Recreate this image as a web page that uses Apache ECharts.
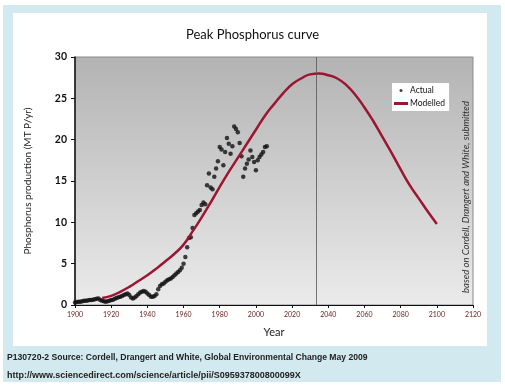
<!DOCTYPE html>
<html>
<head>
<meta charset="utf-8">
<script src="https://cdn.jsdelivr.net/npm/echarts@6/dist/echarts.min.js"></script>
<style>
html,body{margin:0;padding:0;background:#fff;}
#outer{position:absolute;left:3px;top:5px;width:498px;height:377px;background:#d2e9f0;}
#inner{position:absolute;left:13px;top:13px;width:474px;height:333px;background:#fff;}
#chart{position:absolute;left:0;top:0;width:505px;height:389px;}
</style>
</head>
<body>
<div id="outer"></div>
<div id="inner"></div>
<div id="chart"></div>
<script>
// ---- data ----
const actualYears = [];
for (let y = 1900; y <= 2007; y++) actualYears.push(y);
const actualValues = [
  0.3,0.35,0.4,0.4,0.45,0.5,0.5,0.55,0.6,0.6,0.65,0.7,0.75,0.8,
  0.6,0.5,0.45,0.4,0.45,0.5,
  0.6,0.65,0.75,0.85,0.95,1.0,1.1,1.2,1.3,1.4,
  1.2,0.9,0.8,0.9,1.1,
  1.3,1.5,1.6,1.7,1.6,
  1.4,1.2,1.0,1.0,1.1,1.3,
  1.9,2.3,2.5,2.6,
  2.8,3.0,3.1,3.2,3.4,3.6,3.8,4.0,4.2,4.5,
  5.0,5.8,7.0,8.1,8.2,9.3,10.9,11.1,11.3,11.5,
  12.1,12.4,12.2,14.5,15.9,14.2,14.0,15.5,16.5,17.4,
  19.1,18.8,16.9,18.5,20.2,19.5,18.3,19.2,21.6,21.3,
  20.9,19.6,18.0,15.5,16.5,17.1,17.6,18.7,17.9,17.3,
  16.3,17.5,17.9,18.2,18.5,19.1,19.2
];
const modelYears = [1915,1920,1925,1930,1935,1940,1945,1950,1955,1960,1965,1970,1975,1980,1985,1990,1995,2000,2005,2010,2015,2020,2025,2030,2035,2040,2045,2050,2055,2060,2065,2070,2075,2080,2085,2090,2095,2100];
const modelValues = [0.85,1.1,1.6,2.2,2.9,3.6,4.4,5.3,6.2,7.3,8.9,10.6,12.4,14.3,16.1,17.8,19.5,21.2,22.9,24.3,25.6,26.7,27.4,27.9,28.0,27.8,27.4,26.6,25.4,23.9,22.2,20.3,18.4,16.4,14.5,12.9,11.3,9.8];
const peakYear = 2033.5;
const xTicks = [1900,1920,1940,1960,1980,2000,2020,2040,2060,2080,2100,2120];
const yTicks = [0,5,10,15,20,25,30];
const seriesNames = ['Actual','Modelled'];
const titleText = 'Peak Phosphorus curve';
const sourceText = 'P130720-2 Source: Cordell, Drangert and White, Global Environmental Change May 2009';
const urlText = 'http://www.sciencedirect.com/science/article/pii/S095937800800099X';
const sideNote = 'based on Cordell, Drangert and White, submitted';

const chart = echarts.init(document.getElementById('chart'), null, {renderer:'canvas'});
const font = 'Lato, "Noto Sans", sans-serif';
chart.setOption({
  backgroundColor: 'transparent',
  animation: false,
  title: {
    text: titleText, left: 'center', top: 23,
    textStyle: {fontFamily: font, fontSize: 13, fontWeight: 'normal', color: '#111'}
  },
  grid: {
    left: 75, top: 57, right: 32, bottom: 84,
    show: true, borderColor: '#8a8a8a', borderWidth: 1,
    backgroundColor: {type:'linear', x:0, y:0, x2:0, y2:1,
      colorStops:[{offset:0, color:'#b3b3b3'},{offset:1, color:'#ebebeb'}]}
  },
  legend: {
    data: [
      {name: seriesNames[0], icon: 'circle'},
      {name: seriesNames[1], icon: 'rect'}
    ],
    orient: 'vertical', left: 392, top: 83,
    itemWidth: 14, itemHeight: 3, itemGap: 4,
    padding: [3, 4, 3, 2],
    backgroundColor: '#fff',
    textStyle: {fontFamily: font, fontSize: 8.5, color: '#111', padding: [0,0,0,-3]}
  },
  xAxis: {
    type: 'value', min: 1900, max: 2120, interval: 20,
    name: 'Year', nameLocation: 'middle', nameGap: 22,
    nameTextStyle: {fontFamily: font, fontSize: 11, color: '#222'},
    axisLine: {onZero: false, lineStyle: {color: '#111', width: 1}},
    axisTick: {length: 3, lineStyle: {color: '#111'}},
    axisLabel: {fontFamily: font, fontSize: 7, color: '#6a2424', margin: 6,
      formatter: v => xTicks.includes(v) ? String(v) : ''},
    splitLine: {show: false}
  },
  yAxis: {
    type: 'value', min: 0, max: 30, interval: 5,
    name: 'Phosphorus production (MT P/yr)', nameLocation: 'middle', nameGap: 42,
    nameTextStyle: {fontFamily: font, fontSize: 10, color: '#222'},
    axisLine: {show: true, lineStyle: {color: '#111', width: 1.5}},
    axisTick: {show: true, length: 4, lineStyle: {color: '#111'}},
    axisLabel: {fontFamily: font, fontSize: 10.5, fontWeight: 'bold', color: '#111', margin: 8,
      formatter: v => yTicks.includes(v) ? String(v) : ''},
    splitLine: {show: false}
  },
  series: [
    {
      name: seriesNames[0], type: 'scatter',
      data: actualYears.map((y, i) => [y, actualValues[i]]),
      symbol: 'circle', symbolSize: 4.5,
      itemStyle: {color: '#111'}, z: 3
    },
    {
      name: seriesNames[1], type: 'line', smooth: true,
      data: modelYears.map((y, i) => [y, modelValues[i]]),
      showSymbol: false,
      lineStyle: {color: '#9c1632', width: 2.5},
      itemStyle: {color: '#9c1632'}, z: 4,
      markLine: {
        silent: true, symbol: 'none', label: {show: false},
        lineStyle: {color: '#555', width: 0.8, type: 'solid'},
        data: [{xAxis: peakYear}]
      }
    }
  ],
  graphic: [
    {type:'text', left: 7, top: 353, style: {text: sourceText, font: 'bold 8.6px "Liberation Sans", sans-serif', fill: '#222'}},
    {type:'text', left: 7, top: 371, style: {text: urlText, font: 'bold 9px "Liberation Sans", sans-serif', fill: '#222'}},
    {type:'text', x: 466, y: 197, rotation: Math.PI/2,
      style: {text: sideNote, font: 'italic 9.5px Lato, sans-serif', fill: '#333', align: 'center', verticalAlign: 'middle'}}
  ]
});
</script>
</body>
</html>
